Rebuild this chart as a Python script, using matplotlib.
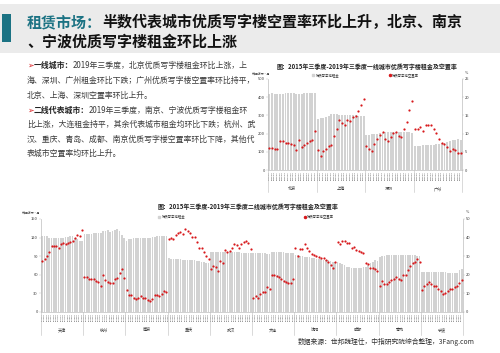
import matplotlib
matplotlib.use('Agg')
import matplotlib.pyplot as plt
import numpy as np
from matplotlib.lines import Line2D
from matplotlib.patches import Rectangle

plt.rcParams['font.family'] = ['Noto Sans CJK SC', 'DejaVu Sans']

W, H = 500, 353

# ---------------- data ----------------
quarters = ['2015Q2', '2015Q3', '2015Q4', '2016Q1', '2016Q2', '2016Q3', '2016Q4', '2017Q1', '2017Q2',
            '2017Q3', '2017Q4', '2018Q1', '2018Q2', '2018Q3', '2018Q4', '2019Q1', '2019Q2', '2019Q3']

tier1_cities = ['北京', '上海', '深圳', '广州']
beijing_rent = [420, 421, 420, 420, 419, 420, 421, 422, 423, 424, 416, 418, 420, 421, 421, 421, 421, 422]
shanghai_rent = [282, 284, 286, 290, 296, 305, 307, 306, 304, 303, 303, 303, 302, 302, 300, 298, 296, 294]
shenzhen_rent = [195, 195, 196, 198, 200, 204, 206, 207, 207, 207, 207, 207, 207, 207, 208, 208, 207, 206]
guangzhou_rent = [133, 134, 134, 135, 136, 137, 138, 140, 142, 145, 148, 150, 152, 160, 164, 167, 168, 167]
beijing_vac = [6.0, 6.1, 5.9, 5.9, 7.9, 8.0, 7.4, 7.4, 7.1, 6.9, 5.5, 8.3, 6.2, 6.8, 7.4, 8.0, 8.2, 10.8]
shanghai_vac = [5.5, 3.8, 5.1, 5.9, 6.6, 6.9, 9.4, 11.4, 13.8, 13.0, 12.5, 13.6, 13.5, 14.6, 14.9, 16.3, 17.9, 19.4]
shenzhen_vac = [6.7, 5.9, 5.3, 7.1, 8.4, 9.5, 10.4, 8.6, 8.1, 9.0, 10.2, 10.5, 9.4, 9.0, 11.3, 13.3, 16.6, 19.0]
guangzhou_vac = [11.2, 11.3, 11.8, 10.8, 12.4, 12.5, 12.4, 11.2, 10.1, 8.6, 7.4, 7.2, 6.4, 5.3, 5.7, 5.5, 4.8, 4.8]

tier2_cities = ['天津', '杭州', '南京', '重庆', '武汉', '大连', '沈阳', '成都', '青岛', '宁波']
tianjin_rent = [123, 123, 123, 120, 119, 119, 119, 120, 120, 120, 121, 121, 122, 122, 119, 117, 115, 114]
hangzhou_rent = [125, 126, 126, 126, 127, 127, 127, 128, 130, 131, 132, 129, 130, 133, 134, 131, 124, 120]
nanjing_rent = [114, 117, 118, 119, 119, 119, 119, 119, 120, 120, 120, 121, 121, 122, 122, 122, 122, 123]
chongqing_rent = [87, 86, 86, 85, 85, 85, 84, 84, 84, 83, 83, 83, 82, 82, 81, 80, 79, 79]
wuhan_rent = [97, 97, 97, 97, 97, 97, 97, 96, 96, 96, 96, 96, 96, 95, 95, 95, 95, 95]
dalian_rent = [95, 95, 95, 95, 95, 95, 94, 93, 96, 96, 96, 96, 96, 96, 95, 95, 95, 95]
shenyang_rent = [91, 91, 90, 90, 89, 89, 88, 87, 87, 86, 86, 85, 84, 84, 83, 82, 81, 80]
chengdu_rent = [80, 78, 77, 75, 73, 72, 71, 71, 71, 71, 71, 72, 73, 76, 78, 81, 83, 82]
qingdao_rent = [89, 90, 90, 91, 91, 91, 91, 91, 91, 91, 91, 91, 91, 91, 91, 91, 90, 90]
ningbo_rent = [65, 65, 65, 65, 65, 64, 64, 64, 64, 64, 64, 63, 63, 63, 63, 63, 68, 69]

tianjin_vac = [27.5, 28.5, 30.3, 32.4, 35.3, 35.7, 35.3, 34.4, 36.6, 36.8, 36.6, 37.2, 37.7, 38.4, 39.5, 41.5, 41.1, 44.0]
hangzhou_vac = [18.7, 18.9, 17.9, 17.8, 17.9, 16.7, 16.0, 14.1, 19.6, 16.9, 16.0, 15.6, 15.6, 17.9, 18.1, 20.9, 22.8, 18.1]
nanjing_vac = [11.8, 8.9, 8.9, 7.6, 7.1, 7.4, 8.2, 7.4, 7.4, 6.4, 5.6, 6.9, 8.9, 9.1, 8.2, 9.5, 10.9, 10.6]
chongqing_vac = [39.1, 39.9, 39.3, 41.3, 42.4, 43.2, 42.0, 44.6, 43.6, 42.4, 40.2, 40.4, 37.7, 34.2, 34.2, 32.3, 30.3, 28.5]
wuhan_vac = [22.8, 24.5, 23.9, 22.1, 27.2, 26.3, 33.5, 32.1, 32.6, 34.5, 36.6, 35.9, 34.5, 36.6, 37.5, 38.0, 37.0, 33.7]
dalian_vac = [7.3, 8.2, 7.6, 9.8, 10.5, 10.4, 13.1, 12.5, 19.9, 19.6, 19.0, 18.5, 17.6, 16.5, 15.8, 15.4, 15.6, 17.4]
shenyang_vac = [34.3, 30.1, 33.7, 33.7, 36.4, 34.3, 32.6, 31.0, 30.6, 30.1, 29.5, 28.8, 28.8, 27.7, 26.8, 25.4, 23.6, 26.8]
chengdu_vac = [37.5, 36.6, 38.1, 38.4, 37.3, 37.0, 34.4, 34.8, 33.5, 32.6, 32.4, 31.4, 26.3, 25.6, 23.6, 23.6, 22.8, 21.9]
qingdao_vac = [13.6, 16.3, 15.1, 14.9, 15.8, 16.9, 17.8, 18.5, 17.8, 16.9, 19.9, 19.6, 22.6, 24.5, 26.3, 26.7, 28.3, 26.8]
ningbo_vac = [11.8, 13.6, 15.0, 16.1, 15.0, 14.1, 14.0, 12.0, 10.9, 9.8, 10.1, 11.4, 12.3, 12.0, 13.1, 14.1, 15.6, 17.2]

tier1_rents = [beijing_rent, shanghai_rent, shenzhen_rent, guangzhou_rent]
tier1_vacs = [beijing_vac, shanghai_vac, shenzhen_vac, guangzhou_vac]
tier2_rents = [tianjin_rent, hangzhou_rent, nanjing_rent, chongqing_rent, wuhan_rent,
               dalian_rent, shenyang_rent, chengdu_rent, qingdao_rent, ningbo_rent]
tier2_vacs = [tianjin_vac, hangzhou_vac, nanjing_vac, chongqing_vac, wuhan_vac,
              dalian_vac, shenyang_vac, chengdu_vac, qingdao_vac, ningbo_vac]

# ---------------- styles ----------------
BAR = '#d2d2d2'
RED = '#d7191c'
TEAL = '#1b7283'
TXT = '#3a3a3a'
AXC = '#bdbdbd'

fig = plt.figure(figsize=(W / 100, H / 100), dpi=100)
fig.patch.set_facecolor('white')


def fx(px):
    return px / W


def fy(py):
    return 1 - py / H


# header band
fig.add_artist(Rectangle((0, fy(53)), 1, 49 / H, transform=fig.transFigure,
                         facecolor='#ebebeb', edgecolor='none', zorder=0))
fig.add_artist(Rectangle((fx(2), fy(42)), 9 / W, 28 / H, transform=fig.transFigure,
                         facecolor=TEAL, edgecolor='none', zorder=1))

renderer = fig.canvas.get_renderer()


def runs(x_px, y_px, parts, size):
    x = x_px
    for text, kw in parts:
        t = fig.text(fx(x), fy(y_px), text, fontsize=size, va='center', ha='left', **kw)
        bb = t.get_window_extent(renderer=renderer)
        x += bb.width


runs(27, 22, [('租赁市场：', dict(color=TEAL, fontweight='bold')),
              ('半数代表城市优质写字楼空置率环比上升，北京、南京', dict(color='#111111', fontweight='bold'))], 10.8)
runs(27, 42, [('、宁波优质写字楼租金环比上涨', dict(color='#111111', fontweight='bold'))], 10.8)

# body text
BS = 5.7
bullet = dict(color=RED, family=['DejaVu Sans'])
bold = dict(color='#222222', fontweight='bold')
norm = dict(color=TXT)
body = [
    (65, [('➢', bullet), ('一线城市：', bold), ('2019年三季度，北京优质写字楼租金环比上涨，上', norm)]),
    (80, [('海、深圳、广州租金环比下跌；广州优质写字楼空置率环比持平，', norm)]),
    (95.5, [('北京、上海、深圳空置率环比上升。', norm)]),
    (110, [('➢', bullet), ('二线代表城市：', bold), ('2019年三季度，南京、宁波优质写字楼租金环', norm)]),
    (124.5, [('比上涨，大连租金持平，其余代表城市租金均环比下跌；杭州、武', norm)]),
    (139, [('汉、重庆、青岛、成都、南京优质写字楼空置率环比下降，其他代', norm)]),
    (153, [('表城市空置率均环比上升。', norm)]),
]
for y, parts in body:
    runs(27, y, parts, BS)


def draw_chart(rect, cities, rents, vacs, lmax, lstep, rmax, rstep,
               sep_px, lab_px, height_px, tick_fs):
    ax = fig.add_axes(rect)
    rent = np.concatenate([np.asarray(r, float) for r in rents])
    vac = np.concatenate([np.asarray(v, float) for v in vacs])
    n = len(rent)
    x = np.arange(n)
    ax.bar(x, rent, width=0.72, color=BAR, edgecolor='none', zorder=1)
    ax.set_xlim(-0.5, n - 0.5)
    ax.set_ylim(0, lmax)
    ax.set_yticks(np.arange(0, lmax + 1, lstep))
    ax.set_xticks(x)
    ax.set_xticklabels(quarters * len(cities), rotation=90, fontsize=tick_fs, color=TXT,
                       family=['DejaVu Sans'])
    ax.tick_params(axis='x', length=0, pad=0.8)
    ax.tick_params(axis='y', labelsize=2.9, colors=TXT, length=1.2, width=0.3, pad=1, color=AXC)
    for s in ['top', 'right']:
        ax.spines[s].set_visible(False)
    for s in ['left', 'bottom']:
        ax.spines[s].set_color(AXC)
        ax.spines[s].set_linewidth(0.5)
    ax.patch.set_alpha(0)

    ax2 = ax.twinx()
    ax2.plot(x, vac, ls='none', marker='o', ms=1.6, color=RED, mec=RED, mew=0, zorder=3)
    ax2.set_ylim(0, rmax)
    ax2.set_yticks(np.arange(0, rmax + 0.01, rstep))
    ax2.set_yticklabels([f'{int(v)}' for v in np.arange(0, rmax + 0.01, rstep)])
    ax2.tick_params(axis='y', labelsize=2.9, colors=TXT, length=1.2, width=0.3, pad=1, color=AXC)
    for s in ['top', 'left', 'bottom']:
        ax2.spines[s].set_visible(False)
    ax2.spines['right'].set_color(AXC)
    ax2.spines['right'].set_linewidth(0.5)

    m = len(quarters)
    tr = ax.get_xaxis_transform()
    for i in range(len(cities) + 1):
        xb = i * m - 0.5
        ax.add_line(Line2D([xb, xb], [0, -sep_px / height_px], transform=tr,
                           color=AXC, lw=0.4, clip_on=False))
    for i, c in enumerate(cities):
        ax.text(i * m + (m - 1) / 2, -lab_px / height_px, c, transform=tr,
                ha='center', va='center', fontsize=3.0, color=TXT)
    return ax, ax2


# top chart (tier 1)
top_rect = [fx(268), fy(170), (462 - 268) / W, 91 / H]
draw_chart(top_rect, tier1_cities, tier1_rents, tier1_vacs, 500, 100, 25, 5,
           sep_px=22, lab_px=19, height_px=91, tick_fs=1.6)
fig.text(fx(367), fy(66.5), '图：2015年三季度-2019年三季度一线城市优质写字楼租金及空置率',
         ha='center', va='center', fontsize=4.3, fontweight='bold', color='#222222')
fig.text(fx(251.5), fy(73.3), '元/平方米·月', ha='left', va='center', fontsize=2.1, color=TXT)
fig.text(fx(466.5), fy(73.3), '%', ha='center', va='center', fontsize=2.6, color=TXT)
fig.add_artist(Line2D([fx(313.3)], [fy(75.3)], marker='s', ms=1.5, color=BAR, ls='none',
                      transform=fig.transFigure))
fig.text(fx(315.5), fy(75.3), '优质写字楼租金', ha='left', va='center', fontsize=2.4, color=TXT)
fig.add_artist(Line2D([fx(390)], [fy(75.3)], marker='o', ms=1.5, color=RED, ls='none',
                      transform=fig.transFigure))
fig.text(fx(392.3), fy(75.3), '优质写字楼空置率', ha='left', va='center', fontsize=2.4, color=TXT)

# bottom chart (tier 2)
bot_rect = [fx(41), fy(311.7), (463 - 41) / W, 92.7 / H]
draw_chart(bot_rect, tier2_cities, tier2_rents, tier2_vacs, 150, 30, 50, 10,
           sep_px=23.5, lab_px=18.5, height_px=92.7, tick_fs=1.4)
fig.text(fx(248), fy(206), '图：2015年三季度-2019年三季度二线城市优质写字楼租金及空置率',
         ha='center', va='center', fontsize=4.3, fontweight='bold', color='#222222')
fig.text(fx(21.7), fy(212.3), '元/平方米·月', ha='left', va='center', fontsize=2.1, color=TXT)
fig.text(fx(467), fy(211.7), '%', ha='center', va='center', fontsize=2.6, color=TXT)
fig.add_artist(Line2D([fx(159.3)], [fy(216.7)], marker='s', ms=1.5, color=BAR, ls='none',
                      transform=fig.transFigure))
fig.text(fx(161.5), fy(216.7), '优质写字楼租金', ha='left', va='center', fontsize=2.4, color=TXT)
fig.add_artist(Line2D([fx(305)], [fy(216.7)], marker='o', ms=1.5, color=RED, ls='none',
                      transform=fig.transFigure))
fig.text(fx(307.3), fy(216.7), '优质写字楼空置率', ha='left', va='center', fontsize=2.4, color=TXT)

fig.text(fx(298), fy(342), '数据来源：世邦魏理仕，中指研究院综合整理，3Fang.com',
         ha='left', va='center', fontsize=4.9, color='#333333')

fig.savefig('out.png', dpi=100, facecolor='white')
